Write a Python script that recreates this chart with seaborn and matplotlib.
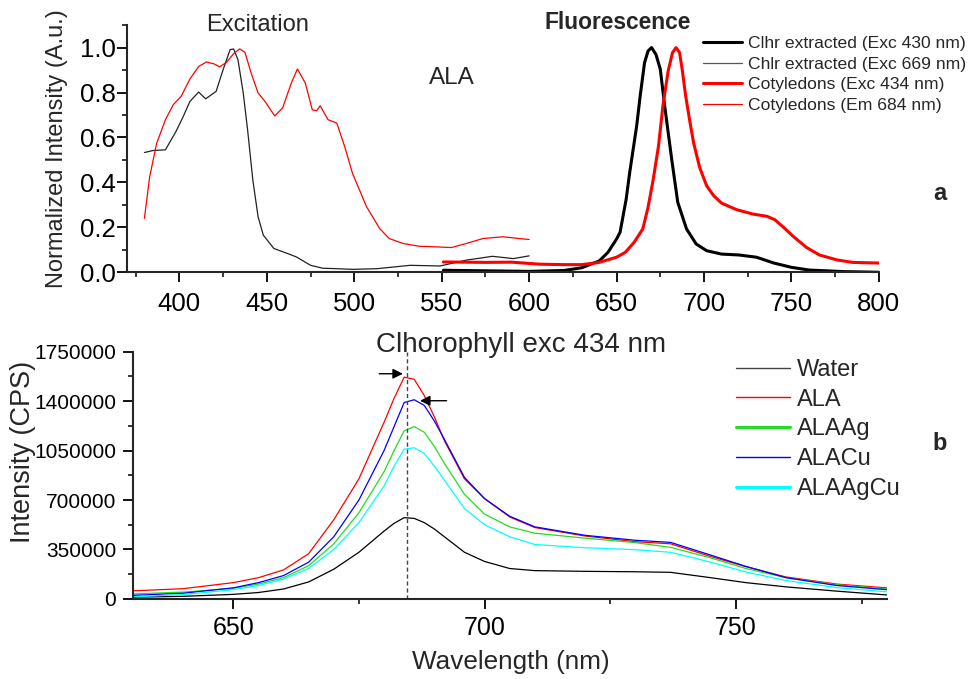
import matplotlib
matplotlib.use("Agg")
import matplotlib.pyplot as plt
import seaborn as sns
from matplotlib.ticker import MultipleLocator, FormatStrFormatter, FuncFormatter

# ---- panel a: excitation spectra (thin lines) ----
exc_chl_nm = [380, 385, 392, 398, 402, 406, 411, 415, 421, 425, 429, 431, 433.5, 436.5,
              439, 442, 445, 448, 454, 461, 467, 475, 482, 490, 499, 513, 532, 549,
              564, 579, 591, 600]
exc_chl = [0.533, 0.542, 0.545, 0.626, 0.69, 0.76, 0.802, 0.772, 0.805, 0.902, 0.991, 0.994,
           0.946, 0.798, 0.634, 0.41, 0.247, 0.165, 0.106, 0.086, 0.068, 0.031, 0.018, 0.016,
           0.013, 0.016, 0.031, 0.028, 0.054, 0.071, 0.061, 0.073]

exc_cot_nm = [380, 383, 387, 392, 396.5, 401, 406, 411, 415.5, 420, 423, 427, 431, 434.5,
              437.5, 441, 445, 449, 454.5, 459, 464, 467.5, 472, 476, 478.5, 480.5, 485,
              490, 494.5, 499, 507, 514.5, 520, 528, 537, 547, 555.5, 564, 573.5, 585,
              594.5, 600]
exc_cot = [0.24, 0.425, 0.574, 0.679, 0.746, 0.783, 0.86, 0.916, 0.936, 0.927, 0.914, 0.935,
           0.973, 0.994, 0.979, 0.887, 0.798, 0.76, 0.696, 0.731, 0.842, 0.905, 0.842, 0.723,
           0.719, 0.741, 0.679, 0.664, 0.56, 0.44, 0.292, 0.195, 0.15, 0.128, 0.116, 0.113,
           0.11, 0.128, 0.15, 0.158, 0.15, 0.146]

# ---- panel a: fluorescence spectra (thick lines) ----
fl_chl_nm = [551, 600, 620, 630, 640, 645, 650, 652, 655.5, 657.5, 661.5, 663.5, 666, 668,
             670, 672.5, 675, 677.5, 681.5, 685, 690, 695.5, 701.5, 710, 720, 730, 740,
             750, 760, 780, 800]
fl_chl = [0.009, 0.004, 0.008, 0.02, 0.05, 0.088, 0.148, 0.178, 0.326, 0.444, 0.652, 0.785,
          0.933, 0.985, 1.0, 0.97, 0.904, 0.741, 0.504, 0.311, 0.193, 0.126, 0.096, 0.081,
          0.077, 0.067, 0.041, 0.022, 0.01, 0.003, 0.0]

fl_cot_nm = [551, 575, 590, 606, 620, 630, 640, 650, 655, 660, 665, 668, 671, 674, 676.5,
             679.5, 682, 684, 686, 687.5, 689.5, 692, 694, 697.5, 701.5, 705.5, 710, 718.5,
             728, 736, 740.5, 745.5, 751, 758.5, 766, 776, 785, 800]
fl_cot = [0.046, 0.044, 0.045, 0.036, 0.034, 0.034, 0.044, 0.067, 0.089, 0.133, 0.193, 0.289,
          0.415, 0.563, 0.741, 0.896, 0.978, 1.0, 0.978, 0.904, 0.785, 0.667, 0.578, 0.467,
          0.385, 0.341, 0.308, 0.279, 0.259, 0.249, 0.234, 0.2, 0.16, 0.111, 0.077, 0.055,
          0.044, 0.041]

# ---- panel b: chlorophyll emission, exc 434 nm ----
wl = [630, 640, 650, 655, 660, 665, 670, 675, 680, 682, 684, 686, 688, 690, 692, 696, 700,
      705, 710, 720, 730, 737, 745, 752, 760, 770, 780]
water = [12e3, 18e3, 32e3, 45e3, 70e3, 120e3, 210e3, 330e3, 480e3, 535e3, 575e3, 570e3,
         540e3, 495e3, 440e3, 330e3, 265e3, 215e3, 200e3, 195e3, 192e3, 188e3, 150e3, 115e3,
         85e3, 55e3, 28e3]
ala = [57e3, 72e3, 115e3, 150e3, 205e3, 320e3, 560e3, 850e3, 1250e3, 1420e3, 1570e3, 1555e3,
       1440e3, 1290e3, 1120e3, 850e3, 710e3, 580e3, 505e3, 445e3, 405e3, 390e3, 300e3, 228e3,
       155e3, 105e3, 78e3]
alaag = [35e3, 48e3, 75e3, 105e3, 150e3, 235e3, 390e3, 610e3, 900e3, 1050e3, 1190e3, 1220e3,
         1180e3, 1080e3, 960e3, 740e3, 600e3, 510e3, 465e3, 430e3, 398e3, 365e3, 290e3, 215e3,
         150e3, 100e3, 71e3]
alacu = [25e3, 40e3, 78e3, 115e3, 165e3, 260e3, 440e3, 700e3, 1050e3, 1220e3, 1390e3, 1410e3,
         1370e3, 1260e3, 1130e3, 860e3, 710e3, 585e3, 510e3, 450e3, 415e3, 400e3, 310e3, 230e3,
         150e3, 95e3, 65e3]
alaagcu = [15e3, 30e3, 65e3, 95e3, 140e3, 215e3, 350e3, 540e3, 800e3, 940e3, 1060e3, 1070e3,
           1030e3, 940e3, 840e3, 640e3, 525e3, 440e3, 385e3, 362e3, 348e3, 330e3, 260e3, 190e3,
           130e3, 80e3, 50e3]

samples = ["Water", "ALA", "ALAAg", "ALACu", "ALAAgCu"]
sample_colors = ["#000000", "#ff0000", "#22dd22", "#0000ff", "#00ffff"]

sns.set_style("ticks")
plt.rcParams["font.family"] = ["Liberation Sans", "DejaVu Sans"]
plt.rcParams["xtick.direction"] = "out"
plt.rcParams["ytick.direction"] = "out"

fig = plt.figure(figsize=(9.69, 6.79), dpi=100)
ax1 = fig.add_axes([0.131, 0.599, 0.776, 0.364])
ax2 = fig.add_axes([0.137, 0.118, 0.778, 0.364])

# panel a
sns.lineplot(x=fl_chl_nm, y=fl_chl, ax=ax1, color="black", linewidth=2.2,
             label="Clhr extracted (Exc 430 nm)")
sns.lineplot(x=exc_chl_nm, y=exc_chl, ax=ax1, color="#222222", linewidth=0.9,
             label="Chlr extracted (Exc 669 nm)")
sns.lineplot(x=fl_cot_nm, y=fl_cot, ax=ax1, color="red", linewidth=2.2,
             label="Cotyledons (Exc 434 nm)")
sns.lineplot(x=exc_cot_nm, y=exc_cot, ax=ax1, color="red", linewidth=0.9,
             label="Cotyledons (Em 684 nm)")
ax1.set_xlim(370, 800)
ax1.set_ylim(0, 1.1)
ax1.xaxis.set_major_locator(MultipleLocator(50))
ax1.xaxis.set_minor_locator(MultipleLocator(25))
ax1.yaxis.set_major_locator(MultipleLocator(0.2))
ax1.yaxis.set_minor_locator(MultipleLocator(0.1))
ax1.yaxis.set_major_formatter(FormatStrFormatter("%.1f"))
ax1.set_xlabel("")
ax1.set_ylabel("Normalized Intensity (A.u.)", fontsize=17)
ax1.yaxis.set_label_coords(-0.079, 0.5)
leg1 = ax1.legend(loc="upper left", bbox_to_anchor=(0.766, 0.955), frameon=False,
                  fontsize=12.6, handlelength=2.25, handletextpad=0.3, labelspacing=0.3,
                  borderpad=0, borderaxespad=0)
leg1.get_lines()[1].set_color("#555555")
ax1.text(0.174, 1.0, "Excitation", transform=ax1.transAxes, fontsize=17, ha="center", va="center")
ax1.text(0.432, 0.785, "ALA", transform=ax1.transAxes, fontsize=17.5, ha="center", va="center")
ax1.text(0.652, 1.012, "Fluorescence", transform=ax1.transAxes, fontsize=16.4,
         fontweight="bold", ha="center", va="center")
ax1.text(1.081, 0.32, "a", transform=ax1.transAxes, fontsize=17, fontweight="bold",
         ha="center", va="center")

# panel b
for name, vals, col in zip(samples, [water, ala, alaag, alacu, alaagcu], sample_colors):
    sns.lineplot(x=wl, y=vals, ax=ax2, color=col, linewidth=0.9, label=name)
leg2 = ax2.legend(loc="upper left", bbox_to_anchor=(0.80, 0.971), frameon=False, fontsize=17,
                  handlelength=2.3, handletextpad=0.3, labelspacing=0.33, borderpad=0,
                  borderaxespad=0)
for line, name in zip(leg2.get_lines(), samples):
    line.set_linewidth(2.2 if name in ("ALAAg", "ALAAgCu") else 1.0)
leg2.get_lines()[0].set_color("#444444")
ax2.axvline(684.5, color="#444444", linestyle=(0, (3, 2)), linewidth=1)
ax2.annotate("", xy=(684.3, 1594000), xytext=(678.5, 1594000),
             arrowprops=dict(arrowstyle="-|>", color="black", lw=1, mutation_scale=15))
ax2.annotate("", xy=(686.6, 1403000), xytext=(693.0, 1403000),
             arrowprops=dict(arrowstyle="-|>", color="black", lw=1, mutation_scale=15))
ax2.set_xlim(630, 780)
ax2.set_ylim(0, 1750000)
ax2.xaxis.set_major_locator(MultipleLocator(50))
ax2.xaxis.set_minor_locator(MultipleLocator(25))
ax2.yaxis.set_major_locator(MultipleLocator(350000))
ax2.yaxis.set_minor_locator(MultipleLocator(175000))
ax2.yaxis.set_major_formatter(FuncFormatter(lambda v, p: f"{int(round(v))}"))
ax2.text(0.515, 1.028, "Clhorophyll exc 434 nm", transform=ax2.transAxes, fontsize=20,
         ha="center", va="center")
ax2.set_xlabel("Wavelength (nm)", fontsize=18.8)
ax2.xaxis.set_label_coords(0.501, -0.205)
ax2.set_ylabel("Intensity (CPS)", fontsize=19.5)
ax2.yaxis.set_label_coords(-0.129, 0.595)
ax2.text(1.07, 0.628, "b", transform=ax2.transAxes, fontsize=17, fontweight="bold",
         ha="center", va="center")

for ax in (ax1, ax2):
    sns.despine(ax=ax)
    ax.spines["left"].set_linewidth(1.5)
    ax.spines["bottom"].set_linewidth(1.5)
    ax.tick_params(which="major", length=7, width=1.3, colors="black")
    ax.tick_params(which="minor", length=3.6, width=1.3)
ax1.tick_params(axis="x", labelsize=18.5, pad=7)
ax1.tick_params(axis="y", labelsize=18.5, pad=1)
ax2.tick_params(axis="y", labelsize=15, pad=5)
ax2.tick_params(axis="x", labelsize=18, pad=5)

fig.savefig("out.png", dpi=100)
